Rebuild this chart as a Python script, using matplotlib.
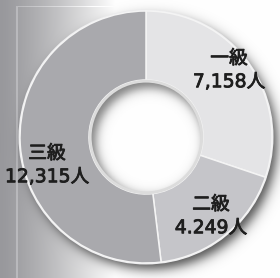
import numpy as np
import matplotlib
matplotlib.use("Agg")
import matplotlib.pyplot as plt
from matplotlib.patches import Circle
import matplotlib.patheffects as pe

# ---- data ----
categories = ["一級", "二級", "三級"]
values = [7158, 4249, 12315]
value_labels = ["7,158人", "4.249人", "12,315人"]

# ---- style ----
slice_colors = ["#e4e4e6", "#c5c5c9", "#a9a9ad"]
W, H = 280, 278
cx, cy = 146, 141          # centre (y up)
R_out, R_in = 126, 57
label_pos = [(229, 208), (211, 62), (47, 113)]

plt.rcParams['font.family'] = ['DejaVu Sans', 'Noto Sans CJK JP']

fig = plt.figure(figsize=(W / 100, H / 100), dpi=100)
ax = fig.add_axes([0, 0, 1, 1])
ax.set_xlim(0, W)
ax.set_ylim(0, H)
ax.set_aspect('auto')
ax.axis('off')

# background gradient + outer drop shadow
xs = np.arange(W) + 0.5
ys = np.arange(H) + 0.5
X, Y = np.meshgrid(xs, ys)
t = np.clip(X / 115.0, 0, 1)
bg = 152 + (255 - 152) * t ** 1.3
img = np.stack([bg, bg, bg + 4 * (1 - t)], axis=-1)
img = np.clip(img, 0, 255)
frame = np.zeros_like(bg, dtype=bool)
Ydown = H - Y
frame |= (np.abs(X - 17) < 0.7) & (Ydown > 6)
frame |= (np.abs(Ydown - 6.5) < 0.7) & (X > 17)
img[frame] = np.clip(img[frame] + 25, 0, 255)
off = (5, -6)
d = np.hypot(X - (cx + off[0]), Y - (cy + off[1]))
sh = 0.7 / (1 + np.exp((d - R_out) / 3.5))
img = img * (1 - sh[..., None])
ax.imshow(img.astype(np.uint8), extent=[0, W, 0, H], origin='lower',
          interpolation='bilinear', zorder=0)

ax.add_patch(Circle((cx, cy), R_out + 1.5, facecolor="#ececee",
                    edgecolor='none', zorder=1))

ax.pie(values, colors=slice_colors, startangle=90, counterclock=False,
       center=(cx, cy), radius=R_out,
       wedgeprops=dict(width=R_out - R_in, edgecolor='#f4f4f4', linewidth=1.1),
       frame=True)
ax.set_xlim(0, W)
ax.set_ylim(0, H)
ax.axis('off')

hx = np.linspace(cx - R_in, cx + R_in, 200)
hy = np.linspace(cy - R_in, cy + R_in, 200)
HX, HY = np.meshgrid(hx, hy)
dd = np.hypot(HX - (cx + 4), HY - (cy - 5))
ish = 0.5 / (1 + np.exp(-(dd - (R_in - 3)) / 3.0))
hole = np.ones(HX.shape + (3,)) * 255 * (1 - ish[..., None])
im = ax.imshow(hole.astype(np.uint8), extent=[cx - R_in, cx + R_in, cy - R_in, cy + R_in],
               origin='lower', interpolation='bilinear', zorder=5)
clip = Circle((cx, cy), R_in - 1, transform=ax.transData)
im.set_clip_path(clip)
ax.add_patch(Circle((cx, cy), R_in - 1.2, facecolor='none', edgecolor='#dcdcdc',
                    linewidth=2.0, zorder=6))

for cat, lab, (px, py) in zip(categories, value_labels, label_pos):
    ax.text(px, py, f"{cat}\n{lab}", ha='center', va='center', fontsize=13.5,
            color='#1e1e1e', linespacing=1.3, zorder=10, multialignment='center',
            path_effects=[pe.withStroke(linewidth=0.6, foreground='#1e1e1e')])

ax.set_xlim(0, W)
ax.set_ylim(0, H)
fig.savefig("out.png", dpi=100)
